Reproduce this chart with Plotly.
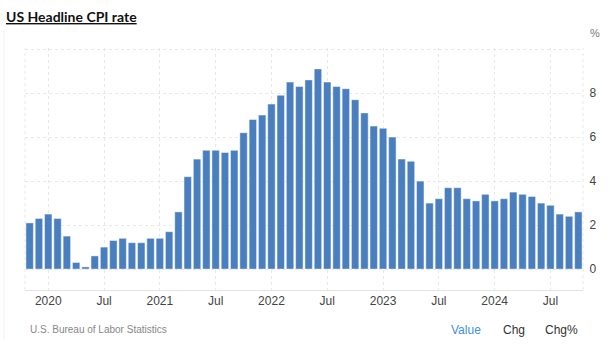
import plotly.graph_objects as go

# Monthly US headline CPI, year-over-year %, Nov 2019 - Oct 2024
months = [
    "2019-11", "2019-12",
    "2020-01", "2020-02", "2020-03", "2020-04", "2020-05", "2020-06",
    "2020-07", "2020-08", "2020-09", "2020-10", "2020-11", "2020-12",
    "2021-01", "2021-02", "2021-03", "2021-04", "2021-05", "2021-06",
    "2021-07", "2021-08", "2021-09", "2021-10", "2021-11", "2021-12",
    "2022-01", "2022-02", "2022-03", "2022-04", "2022-05", "2022-06",
    "2022-07", "2022-08", "2022-09", "2022-10", "2022-11", "2022-12",
    "2023-01", "2023-02", "2023-03", "2023-04", "2023-05", "2023-06",
    "2023-07", "2023-08", "2023-09", "2023-10", "2023-11", "2023-12",
    "2024-01", "2024-02", "2024-03", "2024-04", "2024-05", "2024-06",
    "2024-07", "2024-08", "2024-09", "2024-10",
]
cpi = [
    2.1, 2.3,
    2.5, 2.3, 1.5, 0.3, 0.1, 0.6, 1.0, 1.3, 1.4, 1.2, 1.2, 1.4,
    1.4, 1.7, 2.6, 4.2, 5.0, 5.4, 5.4, 5.3, 5.4, 6.2, 6.8, 7.0,
    7.5, 7.9, 8.5, 8.3, 8.6, 9.1, 8.5, 8.3, 8.2, 7.7, 7.1, 6.5,
    6.4, 6.0, 5.0, 4.9, 4.0, 3.0, 3.2, 3.7, 3.7, 3.2, 3.1, 3.4,
    3.1, 3.2, 3.5, 3.4, 3.3, 3.0, 2.9, 2.5, 2.4, 2.6,
]
tick_months = ["2020-01", "2020-07", "2021-01", "2021-07", "2022-01",
               "2022-07", "2023-01", "2023-07", "2024-01", "2024-07"]
tick_labels = ["2020", "Jul", "2021", "Jul", "2022",
               "Jul", "2023", "Jul", "2024", "Jul"]
y_ticks = [0, 2, 4, 6, 8, 10]
y_tick_labels = ["0", "2", "4", "6", "8", ""]

BAR = "#4a7fbf"
GRID = "#e8e8e8"
TICKFONT = dict(family="Liberation Sans, Arial, sans-serif", size=12, color="#444444")

fig = go.Figure(
    go.Bar(
        x=months,
        y=cpi,
        marker=dict(color=BAR, line=dict(color="rgba(255,255,255,0.45)", width=1)),
        hoverinfo="x+y",
    )
)

fig.update_layout(
    width=610,
    height=349,
    margin=dict(l=25, r=27, t=48, b=59),
    paper_bgcolor="white",
    plot_bgcolor="white",
    bargap=0.2,
    showlegend=False,
    xaxis=dict(
        type="category",
        categoryorder="array",
        categoryarray=months,
        range=[-0.5, len(months) - 0.5],
        tickmode="array",
        tickvals=tick_months,
        ticktext=tick_labels,
        tickfont=TICKFONT,
        ticks="",
        showgrid=True,
        gridcolor=GRID,
        griddash="dot",
        gridwidth=1,
        showline=True,
        linecolor="#e3e3e3",
        linewidth=1,
        fixedrange=True,
    ),
    yaxis=dict(
        side="right",
        range=[-0.95, 10.05],
        tickmode="array",
        tickvals=y_ticks,
        ticktext=y_tick_labels,
        tickfont=TICKFONT,
        ticks="outside",
        ticklen=3,
        tickcolor="rgba(0,0,0,0)",
        showgrid=True,
        gridcolor=GRID,
        griddash="dot",
        gridwidth=1,
        zeroline=False,
        showline=False,
        fixedrange=True,
    ),
    shapes=[
        # plot frame edges
        dict(type="line", xref="paper", yref="paper", x0=0, x1=0, y0=0, y1=1,
             line=dict(color=GRID, width=1, dash="dot")),
        dict(type="line", xref="paper", yref="paper", x0=1, x1=1, y0=0, y1=1,
             line=dict(color=GRID, width=1, dash="dot")),
        # page border on the left
        dict(type="line", xref="paper", yref="paper",
             x0=-21 / 558, x1=-21 / 558, y0=-50 / 242, y1=1 + 18 / 242,
             line=dict(color="#f0f0f0", width=1)),
    ],
    annotations=[
        dict(text="<b>US Headline CPI rate</b>", xref="paper", yref="paper",
             x=-21 / 558, y=1 + 32 / 242, xanchor="left", yanchor="middle",
             showarrow=False,
             font=dict(family="Lato, Noto Sans, sans-serif", size=14, color="#111111",
                       lineposition="under")),
        dict(text="%", xref="paper", yref="paper", x=1 + 12 / 558, y=1 + 15 / 242,
             xanchor="center", yanchor="middle", showarrow=False,
             font=dict(family="Liberation Sans, Arial, sans-serif", size=11, color="#777777")),
        dict(text="U.S. Bureau of Labor Statistics", xref="paper", yref="paper",
             x=3 / 558, y=-39 / 242, xanchor="left", yanchor="middle", showarrow=False,
             font=dict(family="Liberation Sans, Arial, sans-serif", size=10, color="#888888")),
        dict(text="Value", xref="paper", yref="paper", x=424 / 558, y=-40 / 242,
             xanchor="left", yanchor="middle", showarrow=False,
             font=dict(family="Liberation Sans, Arial, sans-serif", size=12, color="#3d8fe0")),
        dict(text="Chg", xref="paper", yref="paper", x=476 / 558, y=-40 / 242,
             xanchor="left", yanchor="middle", showarrow=False,
             font=dict(family="Liberation Sans, Arial, sans-serif", size=12, color="#333333")),
        dict(text="Chg%", xref="paper", yref="paper", x=518 / 558, y=-40 / 242,
             xanchor="left", yanchor="middle", showarrow=False,
             font=dict(family="Liberation Sans, Arial, sans-serif", size=12, color="#333333")),
    ],
)

fig.write_html("out.html")
